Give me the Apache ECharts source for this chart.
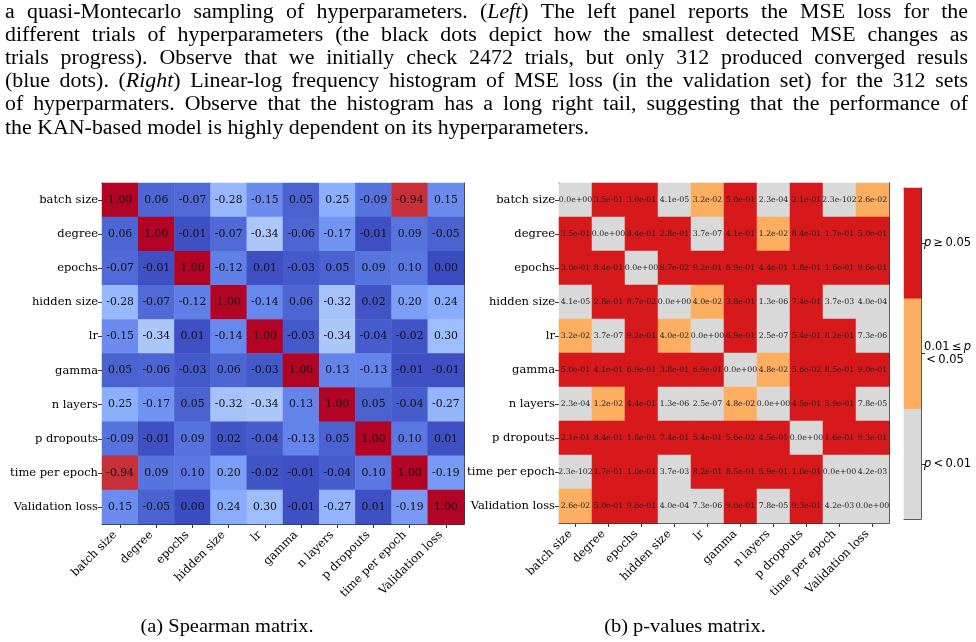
<!DOCTYPE html>
<html>
<head>
<meta charset="utf-8">
<script src="https://cdn.jsdelivr.net/npm/echarts@6/dist/echarts.min.js"></script>
<style>
html,body{margin:0;padding:0;background:#fff;}
#main{width:976px;height:642px;}
</style>
</head>
<body>
<div id="main"></div>
<script>
// ---------------- data ----------------
const categories = ['batch size','degree','epochs','hidden size','lr','gamma','n layers','p dropouts','time per epoch','Validation loss'];

const spearman = [
  [ 1.00, 0.06,-0.07,-0.28,-0.15, 0.05, 0.25,-0.09,-0.94, 0.15],
  [ 0.06, 1.00,-0.01,-0.07,-0.34,-0.06,-0.17,-0.01, 0.09,-0.05],
  [-0.07,-0.01, 1.00,-0.12, 0.01,-0.03, 0.05, 0.09, 0.10, 0.00],
  [-0.28,-0.07,-0.12, 1.00,-0.14, 0.06,-0.32, 0.02, 0.20, 0.24],
  [-0.15,-0.34, 0.01,-0.14, 1.00,-0.03,-0.34,-0.04,-0.02, 0.30],
  [ 0.05,-0.06,-0.03, 0.06,-0.03, 1.00, 0.13,-0.13,-0.01,-0.01],
  [ 0.25,-0.17, 0.05,-0.32,-0.34, 0.13, 1.00, 0.05,-0.04,-0.27],
  [-0.09,-0.01, 0.09, 0.02,-0.04,-0.13, 0.05, 1.00, 0.10, 0.01],
  [-0.94, 0.09, 0.10, 0.20,-0.02,-0.01,-0.04, 0.10, 1.00,-0.19],
  [ 0.15,-0.05, 0.00, 0.24, 0.30,-0.01,-0.27, 0.01,-0.19, 1.00]
];

const pValues = [
  [0,      3.5e-1, 3.0e-1, 4.1e-5, 3.2e-2, 5.0e-1, 2.3e-4, 2.1e-1, 2.3e-102, 2.6e-2],
  [3.5e-1, 0,      8.4e-1, 2.8e-1, 3.7e-7, 4.1e-1, 1.2e-2, 8.4e-1, 1.7e-1,   5.0e-1],
  [3.0e-1, 8.4e-1, 0,      8.7e-2, 9.2e-1, 6.9e-1, 4.4e-1, 1.8e-1, 1.6e-1,   9.6e-1],
  [4.1e-5, 2.8e-1, 8.7e-2, 0,      4.0e-2, 3.8e-1, 1.3e-6, 7.4e-1, 3.7e-3,   4.0e-4],
  [3.2e-2, 3.7e-7, 9.2e-1, 4.0e-2, 0,      6.9e-1, 2.5e-7, 5.4e-1, 8.2e-1,   7.3e-6],
  [5.0e-1, 4.1e-1, 6.9e-1, 3.8e-1, 6.9e-1, 0,      4.8e-2, 5.6e-2, 8.5e-1,   9.0e-1],
  [2.3e-4, 1.2e-2, 4.4e-1, 1.3e-6, 2.5e-7, 4.8e-2, 0,      4.5e-1, 5.9e-1,   7.8e-5],
  [2.1e-1, 8.4e-1, 1.8e-1, 7.4e-1, 5.4e-1, 5.6e-2, 4.5e-1, 0,      1.6e-1,   9.3e-1],
  [2.3e-102,1.7e-1,1.6e-1, 3.7e-3, 8.2e-1, 8.5e-1, 5.9e-1, 1.6e-1, 0,        4.2e-3],
  [2.6e-2, 5.0e-1, 9.6e-1, 4.0e-4, 7.3e-6, 9.0e-1, 7.8e-5, 9.3e-1, 4.2e-3,   0]
];

const pThresholds = [0.01, 0.05];
const pColors = ['#d9d9d9', '#fdae61', '#d7191c'];
const pBandLabels = ['{i|p}\u2009<\u20090.01', '0.01\u2009≤\u2009{i|p}\n\u2009<\u20090.05', '{i|p}\u2009≥\u20090.05'];

const coolwarm = ['#3b4cc0','#6282ea','#8db0fe','#b8d0f9','#dddcdc','#f5c4ad','#f49a7b','#de604d','#b40426'];

const bodyLines = [
  'a quasi-Montecarlo sampling of hyperparameters. (*Left*) The left panel reports the MSE loss for the',
  'different trials of hyperparameters (the black dots depict how the smallest detected MSE changes as',
  'trials progress). Observe that we initially check 2472 trials, but only 312 produced converged resuls',
  '(blue dots). (*Right*) Linear-log frequency histogram of MSE loss (in the validation set) for the 312 sets',
  'of hyperparmaters. Observe that the histogram has a long right tail, suggesting that the performance of',
  'the KAN-based model is highly dependent on its hyperparameters.'
];
const captions = ['(a) Spearman matrix.', '(b) p-values matrix.'];

// ---------------- helpers ----------------
function fmtExp(v) {
  const s = v.toExponential(1);
  let [m, e] = s.split('e');
  const sign = e[0];
  let d = e.slice(1);
  if (d.length < 2) d = '0' + d;
  return m + 'e' + sign + d;
}

const spearData = [];
const pData = [];
for (let r = 0; r < categories.length; r++) {
  for (let c = 0; c < categories.length; c++) {
    spearData.push([c, r, Math.abs(spearman[r][c]), spearman[r][c]]);
    pData.push([c, r, pValues[r][c]]);
  }
}
const bandData = pColors.map((col, i) => [0, i, i]);

// ---------------- body text (justified, LaTeX-like) ----------------
const BODY_SIZE = 20;
const TEXT_L = 5, TEXT_R = 968, LAST_LINE_END = 589;
const lineYs = [13, 36, 59, 82, 105, 129];
const ctx = document.createElement('canvas').getContext('2d');
function fontOf(it, size) {
  return (it ? 'italic ' : '') + size + 'px "Liberation Serif", "DejaVu Serif", serif';
}
function measureRaw(text, it, size) {
  ctx.font = fontOf(it, size);
  return ctx.measureText(text).width;
}
function segsOf(word) {
  return word.split('*').map((t, i) => ({t, it: i % 2 === 1})).filter(s => s.t.length);
}
// horizontal stretch so the (Times-like) font matches the width of the Computer Modern original
const lastPlain = bodyLines[bodyLines.length - 1].replace(/\*/g, '');
const SX = (LAST_LINE_END - TEXT_L) / measureRaw(lastPlain, false, BODY_SIZE);

const graphics = [];
bodyLines.forEach((line, li) => {
  const words = line.split(' ').map(w => {
    const segs = segsOf(w);
    segs.forEach(s => s.w = measureRaw(s.t, s.it, BODY_SIZE) * SX);
    return {segs, w: segs.reduce((a, s) => a + s.w, 0)};
  });
  const total = words.reduce((a, w) => a + w.w, 0);
  const justify = li < bodyLines.length - 1;
  const gap = justify ? (TEXT_R - TEXT_L - total) / (words.length - 1) : measureRaw(' ', false, BODY_SIZE) * SX;
  let x = TEXT_L;
  words.forEach(w => {
    w.segs.forEach(s => {
      graphics.push({
        type: 'text', x: x, y: lineYs[li], scaleX: SX, silent: true,
        style: {text: s.t, font: fontOf(s.it, BODY_SIZE), fill: '#000', align: 'left', verticalAlign: 'middle'}
      });
      x += s.w;
    });
    x += gap;
  });
});
const CAP_SIZE = 19;
const capSX = 173 / measureRaw(captions[0], false, CAP_SIZE);
[[227, 627], [685, 627]].forEach((p, i) => {
  graphics.push({
    type: 'text', x: p[0], y: p[1], scaleX: capSX, silent: true,
    style: {text: captions[i], font: fontOf(false, CAP_SIZE), fill: '#000', align: 'center', verticalAlign: 'middle'}
  });
});

// ---------------- axes ----------------
const SPINE = {show: true, lineStyle: {color: '#333', width: 1}};
const LABEL_FONT = {fontFamily: 'DejaVu Serif', fontSize: 11.5, color: '#000'};
function mainX(gi) {
  return [
    {type: 'category', gridIndex: gi, data: categories, position: 'bottom', axisLine: SPINE,
     axisTick: {show: true, alignWithLabel: true, length: 4, lineStyle: {color: '#333'}},
     axisLabel: Object.assign({interval: 0, rotate: 45, margin: 4, formatter: v => v + '\u00a0\u00a0'}, LABEL_FONT),
     splitLine: {show: false}},
    {type: 'category', gridIndex: gi, data: categories, position: 'top', axisLine: SPINE,
     axisTick: {show: false}, axisLabel: {show: false}, splitLine: {show: false}}
  ];
}
function mainY(gi) {
  return [
    {type: 'category', gridIndex: gi, data: categories, inverse: true, position: 'left', axisLine: SPINE,
     axisTick: {show: true, alignWithLabel: true, length: 4, lineStyle: {color: '#333'}},
     axisLabel: Object.assign({interval: 0, margin: 4}, LABEL_FONT), splitLine: {show: false}},
    {type: 'category', gridIndex: gi, data: categories, inverse: true, position: 'right', axisLine: SPINE,
     axisTick: {show: false}, axisLabel: {show: false}, splitLine: {show: false}}
  ];
}

const option = {
  animation: false,
  backgroundColor: '#fff',
  grid: [
    {left: 102, top: 183, width: 362, height: 341},
    {left: 559, top: 183, width: 330, height: 340},
    {left: 904, top: 188, width: 17, height: 331}
  ],
  xAxis: [
    ...mainX(0), ...mainX(1),
    {type: 'category', gridIndex: 2, data: [''], position: 'bottom', axisLine: SPINE, axisTick: {show: false}, axisLabel: {show: false}},
    {type: 'category', gridIndex: 2, data: [''], position: 'top', axisLine: SPINE, axisTick: {show: false}, axisLabel: {show: false}}
  ],
  yAxis: [
    ...mainY(0), ...mainY(1),
    {type: 'category', gridIndex: 2, data: pBandLabels, position: 'right', axisLine: SPINE,
     axisTick: {show: true, alignWithLabel: true, length: 4, lineStyle: {color: '#333'}},
     axisLabel: {interval: 0, margin: 3, fontFamily: 'DejaVu Sans', fontSize: 11.5, color: '#000', lineHeight: 13,
                 rich: {i: {fontStyle: 'italic', fontFamily: 'DejaVu Sans', fontSize: 11.5, color: '#000'}}}},
    {type: 'category', gridIndex: 2, data: pBandLabels, position: 'left', axisLine: SPINE, axisTick: {show: false}, axisLabel: {show: false}}
  ],
  visualMap: [
    {type: 'continuous', seriesIndex: 0, dimension: 2, min: 0, max: 1, show: false, inRange: {color: coolwarm}},
    {type: 'piecewise', seriesIndex: 1, dimension: 2, show: false,
     pieces: [
       {lt: pThresholds[0], color: pColors[0]},
       {gte: pThresholds[0], lt: pThresholds[1], color: pColors[1]},
       {gte: pThresholds[1], color: pColors[2]}
     ]},
    {type: 'piecewise', seriesIndex: 2, dimension: 2, show: false,
     pieces: pColors.map((c, i) => ({value: i, color: c}))}
  ],
  series: [
    {type: 'heatmap', xAxisIndex: 0, yAxisIndex: 0, data: spearData,
     label: {show: true, formatter: p => p.value[3].toFixed(2), fontFamily: 'DejaVu Serif', fontSize: 10.8, color: '#111'},
     emphasis: {disabled: true}},
    {type: 'heatmap', xAxisIndex: 2, yAxisIndex: 2, data: pData,
     label: {show: true, formatter: p => fmtExp(p.value[2]), fontFamily: 'DejaVu Serif', fontSize: 7.8, color: '#222'},
     emphasis: {disabled: true}},
    {type: 'heatmap', xAxisIndex: 4, yAxisIndex: 4, data: bandData, label: {show: false}, emphasis: {disabled: true}}
  ],
  graphic: graphics
};

const chart = echarts.init(document.getElementById('main'));
chart.setOption(option);
</script>
</body>
</html>
